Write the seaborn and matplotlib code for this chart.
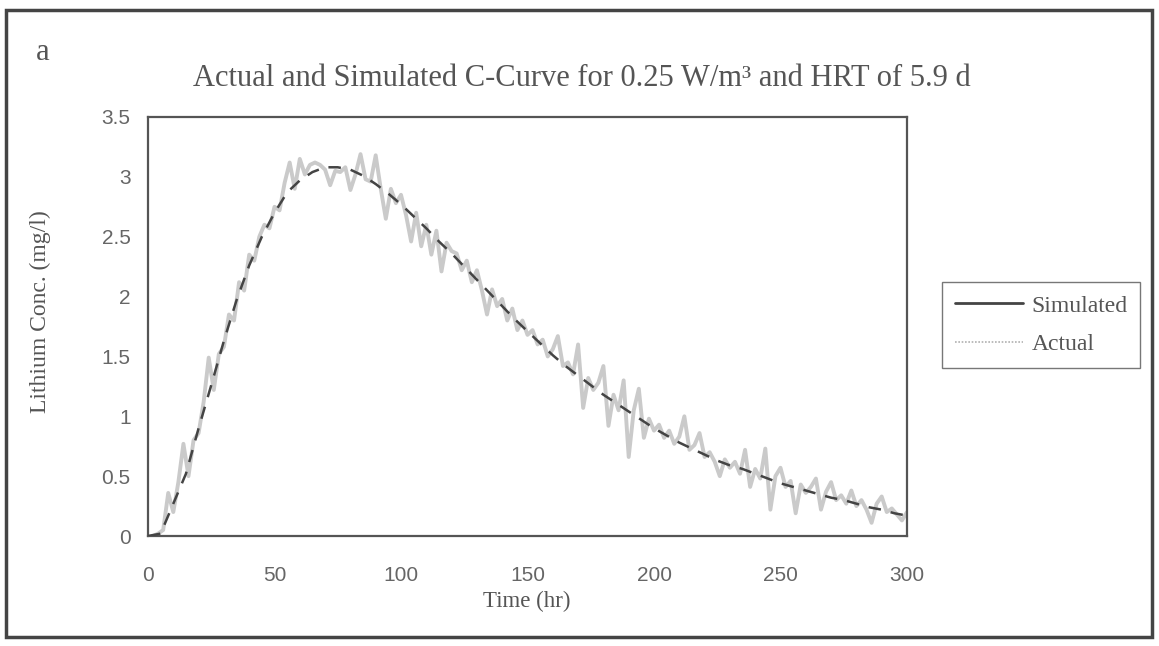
import numpy as np
import pandas as pd
import matplotlib
matplotlib.use("Agg")
import matplotlib.pyplot as plt
from matplotlib.lines import Line2D
from matplotlib.patches import Rectangle
import seaborn as sns

# ---------------- data ----------------
sim_time = [0, 5, 10, 15, 20, 25, 30, 35, 40, 45, 50, 55, 60, 65, 70, 75, 80, 85, 90, 95,
            100, 105, 110, 115, 120, 125, 130, 135, 140, 145, 150, 155, 160, 165, 170, 175,
            180, 185, 190, 195, 200, 205, 210, 215, 220, 225, 230, 235, 240, 245, 250, 255,
            260, 265, 270, 275, 280, 285, 290, 295, 300]
sim_conc = [0.0, 0.02, 0.27, 0.52, 0.90, 1.26, 1.63, 1.97, 2.26, 2.50, 2.70, 2.87, 2.97, 3.04,
            3.08, 3.08, 3.06, 3.01, 2.94, 2.86, 2.77, 2.67, 2.57, 2.46, 2.36, 2.25, 2.14, 2.03,
            1.92, 1.81, 1.71, 1.61, 1.51, 1.42, 1.34, 1.26, 1.18, 1.11, 1.04, 0.97, 0.90, 0.84,
            0.78, 0.73, 0.68, 0.63, 0.59, 0.56, 0.52, 0.48, 0.44, 0.41, 0.38, 0.35, 0.32, 0.30,
            0.27, 0.24, 0.22, 0.19, 0.17]

act_time = list(range(2, 301, 2))
act_conc = [0.00, 0.02, 0.05, 0.36, 0.20, 0.45, 0.77, 0.50, 0.80, 0.86,
            1.12, 1.49, 1.22, 1.52, 1.58, 1.85, 1.80, 2.12, 2.05, 2.35,
            2.30, 2.50, 2.60, 2.57, 2.75, 2.72, 2.95, 3.12, 2.90, 3.15,
            3.02, 3.10, 3.12, 3.10, 3.06, 2.93, 3.05, 3.04, 3.08, 2.89,
            3.02, 3.19, 2.98, 2.96, 3.18, 2.90, 2.65, 2.90, 2.78, 2.85,
            2.68, 2.46, 2.70, 2.42, 2.60, 2.35, 2.55, 2.21, 2.45, 2.38,
            2.36, 2.22, 2.30, 2.12, 2.22, 2.05, 1.85, 2.06, 1.92, 1.98,
            1.80, 1.90, 1.72, 1.80, 1.68, 1.72, 1.60, 1.64, 1.50, 1.56,
            1.67, 1.42, 1.45, 1.35, 1.60, 1.07, 1.32, 1.22, 1.28, 1.42,
            0.92, 1.18, 1.05, 1.30, 0.66, 1.05, 1.23, 0.82, 0.98, 0.88,
            0.93, 0.82, 0.88, 0.77, 0.83, 1.00, 0.72, 0.76, 0.86, 0.66,
            0.70, 0.62, 0.50, 0.64, 0.57, 0.62, 0.52, 0.72, 0.41, 0.56,
            0.48, 0.73, 0.22, 0.50, 0.57, 0.41, 0.46, 0.19, 0.43, 0.36,
            0.41, 0.48, 0.22, 0.37, 0.45, 0.30, 0.34, 0.27, 0.38, 0.25,
            0.30, 0.22, 0.11, 0.27, 0.33, 0.20, 0.23, 0.18, 0.13, 0.20]

x_ticks = [0, 50, 100, 150, 200, 250, 300]
y_ticks = [0, 0.5, 1, 1.5, 2, 2.5, 3, 3.5]
y_tick_labels = ["0", "0.5", "1", "1.5", "2", "2.5", "3", "3.5"]

sim_df = pd.DataFrame({"Time": sim_time, "Conc": sim_conc})
act_df = pd.DataFrame({"Time": act_time, "Conc": act_conc})

# ---------------- style ----------------
sns.set_style("white")
plt.rcParams["font.family"] = ["Liberation Serif", "DejaVu Serif"]

W, H = 1159, 646
fig = plt.figure(figsize=(W / 100, H / 100), dpi=100)
ax = fig.add_axes([148 / W, 1 - 536 / H, (907 - 148) / W, (536 - 117) / H])

text_col = "#555555"
sim_col = "#444444"
act_col = "#cacaca"

sns.lineplot(data=act_df, x="Time", y="Conc", ax=ax, color=act_col, linewidth=2.8,
             zorder=2, estimator=None, sort=False)
sns.lineplot(data=sim_df, x="Time", y="Conc", ax=ax, color=sim_col, linewidth=1.8,
             zorder=3, estimator=None, sort=False)
ax.lines[-1].set_dashes([5, 4])

ax.set_xlim(0, 300)
ax.set_ylim(0, 3.5)
ax.set_xticks(x_ticks)
ax.set_yticks(y_ticks)
ax.set_yticklabels(y_tick_labels)
ax.tick_params(axis="both", direction="inout", length=9, width=1, color="#666666",
               labelsize=15, labelcolor="#666666")
ax.tick_params(axis="x", pad=17)
ax.tick_params(axis="y", pad=8)
for lab in ax.get_xticklabels() + ax.get_yticklabels():
    lab.set_fontfamily(["Liberation Sans", "DejaVu Sans"])

for s in ax.spines.values():
    s.set_color("#555555")
    s.set_linewidth(1.6)
    s.set_visible(True)

ax.set_xlabel("Time (hr)", fontsize=16.5, color=text_col)
ax.xaxis.set_label_coords((527 - 148) / 759, -(601 - 536) / 419)
ax.xaxis.label.set_va("center")
ax.set_ylabel("Lithium Conc. (mg/l)", fontsize=17, color=text_col)
ax.yaxis.set_label_coords(-(148 - 40) / 759, (536 - 312) / 419)
ax.yaxis.label.set_va("center")

fig.text(582 / W, 1 - 78 / H,
         "Actual and Simulated C-Curve for 0.25 W/m³ and HRT of 5.9 d",
         ha="center", va="center", fontsize=22, color=text_col)
fig.text(36 / W, 1 - 52 / H, "a", ha="left", va="center", fontsize=22, color=text_col)

handles = [Line2D([], [], color=sim_col, linewidth=2.0),
           Line2D([], [], color="#b0b0b0", linewidth=1.2, linestyle=(0, (1, 1)))]
leg = fig.legend(handles, ["Simulated", "Actual"], loc="center",
                 bbox_to_anchor=(1041 / W, 1 - 325 / H), frameon=True, fancybox=False,
                 fontsize=17, handlelength=2.9, handletextpad=0.35, borderpad=0.55,
                 labelspacing=0.7, borderaxespad=0, edgecolor="#555555")
leg.get_frame().set_linewidth(1.0)
for t in leg.get_texts():
    t.set_color(text_col)

# outer frame
fig.patches.append(Rectangle((6 / W, 1 - 637 / H), (1152 - 6) / W, (637 - 10) / H,
                             transform=fig.transFigure, fill=False,
                             edgecolor="#444444", linewidth=2.5))

fig.savefig("out.png", dpi=100)
